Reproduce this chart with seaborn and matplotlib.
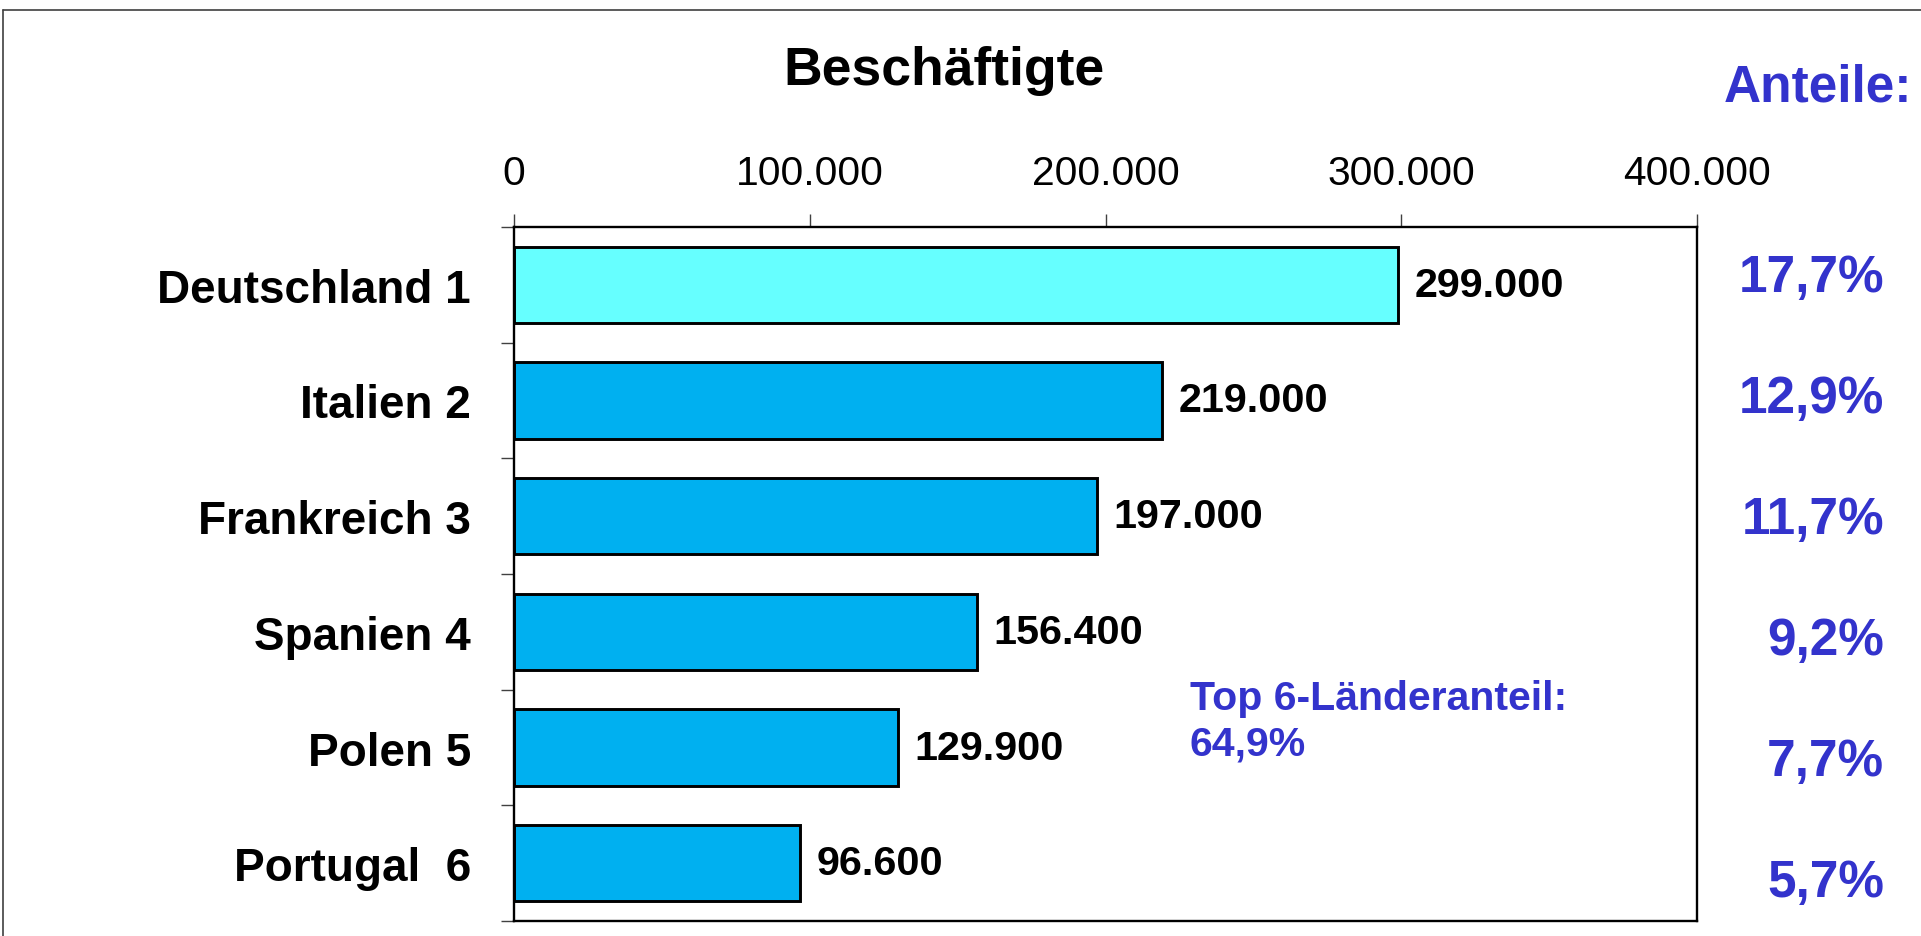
import numpy as np
import pandas as pd
import matplotlib
matplotlib.use("Agg")
import matplotlib.pyplot as plt
from matplotlib.lines import Line2D
from matplotlib.transforms import blended_transform_factory
import seaborn as sns

# Beschäftigte der Top-6-Länder
countries = ["Deutschland 1", "Italien 2", "Frankreich 3", "Spanien 4", "Polen 5", "Portugal  6"]
employees = [299000, 219000, 197000, 156400, 129900, 96600]
shares = [17.7, 12.9, 11.7, 9.2, 7.7, 5.7]
x_ticks = [0, 100000, 200000, 300000, 400000]
bar_colors = ["#66FFFF", "#00B0F0", "#00B0F0", "#00B0F0", "#00B0F0", "#00B0F0"]

BLUE = "#3333CC"


def de_num(v):
    return f"{v:,.0f}".replace(",", ".")


def de_pct(v):
    return f"{v:.1f}%".replace(".", ",")


sns.set_theme(style="white")
plt.rcParams["font.family"] = ["Liberation Sans", "DejaVu Sans"]
plt.rcParams["text.color"] = "black"

df = pd.DataFrame({"Land": countries, "Beschäftigte": employees})

W, H = 1921, 937
fig = plt.figure(figsize=(W / 100, H / 100), dpi=100)
ax = fig.add_axes([514 / W, 1 - 922 / H, (1697 - 514) / W, (922 - 228) / H])

sns.barplot(data=df, x="Beschäftigte", y="Land", hue="Land", palette=bar_colors,
            legend=False, orient="h", width=0.66, edgecolor="black", linewidth=2.1,
            saturation=1, ax=ax)

ax.set_xlim(0, 400000)
ax.set_ylim(5.5, -0.5)
ax.set_xlabel("")
ax.set_ylabel("")

# x axis on top
ax.xaxis.tick_top()
ax.set_xticks(x_ticks, labels=[de_num(t) for t in x_ticks])
ax.tick_params(axis="x", which="major", top=True, bottom=False, length=9.5, width=1.0,
               color="#404040", pad=16, labelsize=29.3, labelcolor="black")

# y ticks at category boundaries, labels at bar centres
ax.set_yticks(np.arange(-0.5, len(countries)), labels=[""] * (len(countries) + 1))
ax.set_yticks(np.arange(len(countries)), labels=countries, minor=True)
ax.tick_params(axis="y", which="major", left=True, length=9.5, width=1.0, color="#404040")
ax.tick_params(axis="y", which="minor", left=True, length=0, pad=31, labelsize=33,
               labelcolor="black")
for lbl in ax.get_yticklabels(minor=True):
    lbl.set_fontweight("bold")

for s in ax.spines.values():
    s.set_visible(True)
    s.set_color("black")
    s.set_linewidth(1.7)

# value labels right of each bar
for i, v in enumerate(employees):
    ax.annotate(de_num(v), xy=(v, i), xytext=(12, 0), textcoords="offset points",
                ha="left", va="center", fontsize=29.8, fontweight="bold", color="black")

# shares column on the right
trans = blended_transform_factory(fig.transFigure, ax.transData)
for i, s in enumerate(shares):
    ax.text(1884 / W, i * 1.045 - 0.06, de_pct(s), transform=trans, ha="right", va="center",
            fontsize=37, fontweight="bold", color=BLUE, clip_on=False)

fig.text(1912 / W, 1 - 88 / H, "Anteile:", ha="right", va="center",
         fontsize=37, fontweight="bold", color=BLUE)

fig.text(944 / W, 1 - 71 / H, "Beschäftigte", ha="center", va="center",
         fontsize=38.5, fontweight="bold", color="black")

ax.text(228500, 3.77, "Top 6-Länderanteil:\n" + de_pct(sum(shares)), ha="left", va="center",
        fontsize=29.5, fontweight="bold", color=BLUE, linespacing=1.25)

# outer frame (top and left edges)
fig.add_artist(Line2D([3 / W, 1], [1 - 11 / H, 1 - 11 / H], transform=fig.transFigure,
                      color="#404040", linewidth=1.2))
fig.add_artist(Line2D([3 / W, 3 / W], [0, 1 - 11 / H], transform=fig.transFigure,
                      color="#404040", linewidth=1.2))

fig.savefig("out.png", dpi=100)
